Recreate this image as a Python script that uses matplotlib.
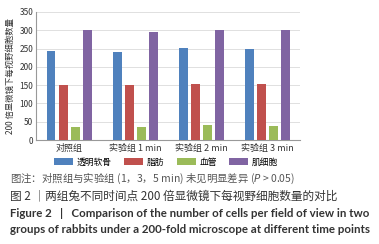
import numpy as np
import matplotlib
matplotlib.use("Agg")
import matplotlib.pyplot as plt

plt.rcParams['font.family'] = ['Noto Sans CJK SC', 'DejaVu Sans']

# 数据
groups = ["对照组", "实验组 1 min", "实验组 2 min", "实验组 3 min"]
series = ["透明软骨", "脂肪", "血管", "肌细胞"]
cartilage = [243, 240, 252, 250]
fat = [150, 150, 153, 152]
vessel = [36, 36, 41, 39]
muscle = [300, 296, 302, 300]
colors = ["#4f81bd", "#c0504d", "#9bbb59", "#8064a2"]

fig = plt.figure(figsize=(3.79, 2.44), dpi=100)
ax = fig.add_axes([0.095, 0.426, 0.697, 0.525])

x = np.arange(len(groups))
w = 0.136
step = 0.182
for i, vals in enumerate([cartilage, fat, vessel, muscle]):
    ax.bar(x + (i - 1.5) * step, vals, w, color=colors[i], label=series[i], zorder=3)

ax.set_xlim(-0.5, 3.5)
ax.set_ylim(0, 350)
ax.set_yticks(range(0, 351, 50))
ax.grid(axis="y", color="#e0e0e0", lw=0.7, zorder=0)
for s in ["top", "right"]:
    ax.spines[s].set_visible(False)
ax.spines["left"].set_color("#999999")
ax.spines["bottom"].set_color("#999999")
ax.tick_params(axis="y", length=0, labelsize=6, pad=2, colors="#333333")
ax.tick_params(axis="x", length=0, labelsize=6.5, pad=3, colors="#333333")
ax.set_xticks(x)
ax.set_xticklabels(groups)
ax.set_ylabel("200 倍显微镜下每视野细胞数量", fontsize=6, color="#333333", labelpad=3)

ax.legend(loc="upper center", bbox_to_anchor=(0.493, -0.11), ncol=4, frameon=False,
          fontsize=6.3, handlelength=2.2, handleheight=0.9, columnspacing=1.4,
          handletextpad=0.4, borderaxespad=0)

fig.text(0.026, 0.267, "图注：对照组与实验组 (1，3，5 min) 未见明显差异 ($\\it{P}$ > 0.05)",
         fontsize=7.5, color="#555555", va="center")
fig.text(0.026, 0.198, "图 2 ｜两组兔不同时间点 200 倍显微镜下每视野细胞数量的对比",
         fontsize=8.4, color="#333333", va="center")
fig.text(0.026, 0.123, "Figure 2   |   Comparison of the number of cells per field of view in two",
         fontsize=8.3, color="#333333", va="center", fontweight="bold", family="Lato")
fig.text(0.026, 0.061, "groups of rabbits under a 200-fold microscope at different time points",
         fontsize=8.3, color="#333333", va="center", fontweight="bold", family="Lato")

fig.savefig("out.png", dpi=100)
